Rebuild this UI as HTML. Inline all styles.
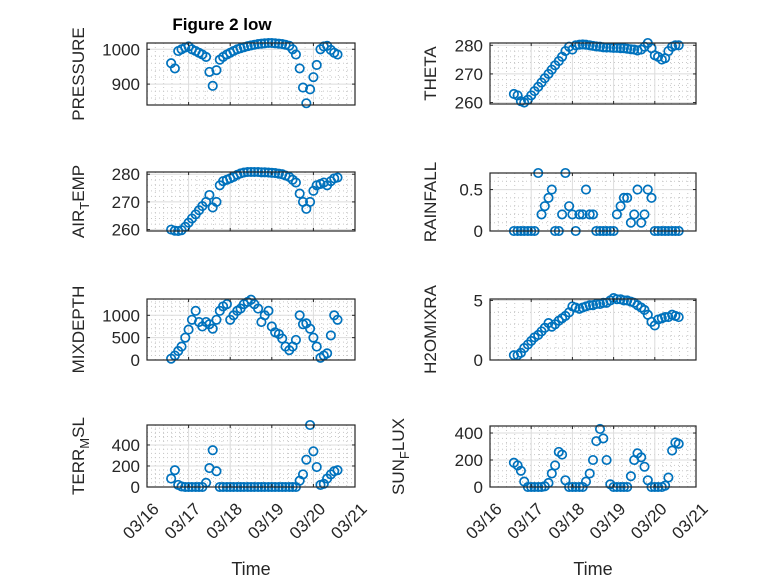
<!DOCTYPE html>
<html><head><meta charset="utf-8"><style>
html,body{margin:0;padding:0;background:#fff;}
svg{display:block;font-family:"Liberation Sans",sans-serif;}
</style></head><body>
<svg id="fig" width="778" height="583" viewBox="0 0 778 583">
<rect x="0" y="0" width="778" height="583" fill="#fff"/>
<text x="222" y="30" text-anchor="middle" font-size="17" font-weight="bold" fill="#000">Figure 2 low</text>
</svg>
<script>
const times = [16.58,16.67,16.75,16.83,16.92,17.00,17.08,17.17,17.25,17.33,17.42,17.50,17.58,17.67,17.75,17.83,17.92,18.00,18.08,18.17,18.25,18.33,18.42,18.50,18.58,18.67,18.75,18.83,18.92,19.00,19.08,19.17,19.25,19.33,19.42,19.50,19.58,19.67,19.75,19.83,19.92,20.00,20.08,20.17,20.25,20.33,20.42,20.50,20.58];
const pressure = [960,945,995,1000,1005,1008,1000,995,990,985,978,935,895,940,970,978,985,990,995,1000,1003,1006,1009,1011,1013,1015,1016,1017,1018,1018,1017,1016,1015,1013,1010,1000,985,945,890,845,885,920,955,1000,1008,1010,998,990,985];
const theta = [263,262.5,260.5,260,261,262.5,264,265.5,267,268.5,270,271.5,273,274.5,276,278,279.5,278.5,280,280.2,280.3,280.2,280,279.8,279.6,279.5,279.3,279.2,279.2,279.1,279.1,279,279,278.8,278.6,278.5,278.2,278.5,279.5,280.8,279,276.5,276,275,275.5,278,279.5,280,280];
const airTemp = [260,259.6,259.5,259.8,261,262.5,264,265.5,267,268.5,270,272.5,268,270,276,277.5,278,278.5,279,279.8,280.3,280.6,280.8,280.8,280.8,280.8,280.7,280.7,280.6,280.5,280.4,280.2,280,279.5,279,278,277,273,270,267.5,270,274,276,276.5,277,276,277.5,278.5,278.8];
const rainfall = [0,0,0,0,0,0,0,0.7,0.2,0.3,0.4,0.5,0,0,0.2,0.7,0.3,0.2,0,0.2,0.2,0.5,0.2,0.2,0,0,0,0,0,0,0.2,0.3,0.4,0.4,0.1,0.2,0.5,0.1,0.2,0.5,0.4,0,0,0,0,0,0,0,0];
const mixDepth = [30,100,200,300,500,680,900,1100,850,750,850,800,700,900,1100,1200,1250,900,1000,1100,1150,1250,1300,1350,1250,1150,850,1000,1100,750,620,580,480,300,220,300,450,1000,800,820,700,500,300,50,100,150,550,1000,900];
const h2oMixRatio = [0.4,0.4,0.6,1.0,1.3,1.6,1.9,2.1,2.4,2.7,3.1,2.8,3.0,3.3,3.5,3.7,4.0,4.5,4.4,4.3,4.4,4.5,4.6,4.6,4.7,4.7,4.8,4.8,5.0,5.2,5.1,5.1,5.0,5.0,4.9,4.8,4.6,4.4,4.2,3.8,3.2,2.9,3.4,3.5,3.6,3.6,3.8,3.7,3.6];
const terrMsl = [80,160,20,5,0,0,0,0,0,0,40,180,350,150,0,0,0,0,0,0,0,0,0,0,0,0,0,0,0,0,0,0,0,0,0,0,0,60,120,260,590,340,190,20,30,80,120,150,160];
const sunFlux = [180,160,120,40,0,0,0,0,0,5,30,100,160,260,240,50,0,0,0,0,0,40,100,200,340,430,360,200,20,0,0,0,0,0,80,200,250,220,150,50,0,0,0,0,10,70,270,330,320];
const xTickLabels = ["03/16","03/17","03/18","03/19","03/20","03/21"];
const xTickDays = [16,17,18,19,20,21];
const ticksPressure = [900,1000];
const ticksTheta = [260,270,280];
const ticksAir = [260,270,280];
const ticksRain = [0,0.5];
const ticksMix = [0,500,1000];
const ticksH2o = [0,5];
const ticksTerr = [0,200,400];
const ticksSun = [0,200,400];

const NS = "http://www.w3.org/2000/svg";
const svg = document.getElementById('fig');
const BLUE = "#0072BD";

const panels = [
 {name:"pressure", data:pressure, ticks:ticksPressure, ylim:[840,1018], x:147, y:43, w:208, h:62, label:["PRESSURE"], lx:78, bottom:false},
 {name:"theta", data:theta, ticks:ticksTheta, ylim:[259.5,280.8], x:490, y:43, w:206, h:61, label:["THETA"], lx:430, bottom:false},
 {name:"air-temp", data:airTemp, ticks:ticksAir, ylim:[259.5,280.8], x:147, y:172, w:208, h:59, label:["AIR","T","EMP"], lx:78, bottom:false},
 {name:"rainfall", data:rainfall, ticks:ticksRain, ylim:[0,0.7], x:490, y:173, w:206, h:58, label:["RAINFALL"], lx:430, bottom:false},
 {name:"mixdepth", data:mixDepth, ticks:ticksMix, ylim:[0,1365], x:147, y:299, w:208, h:61, label:["MIXDEPTH"], lx:78, bottom:false},
 {name:"h2o-mix-ratio", data:h2oMixRatio, ticks:ticksH2o, ylim:[0,5.12], x:490, y:299, w:206, h:61, label:["H2OMIXRA"], lx:430, bottom:false},
 {name:"terr-msl", data:terrMsl, ticks:ticksTerr, ylim:[0,590], x:147, y:425, w:208, h:62, label:["TERR","M","SL"], lx:78, bottom:true},
 {name:"sun-flux", data:sunFlux, ticks:ticksSun, ylim:[0,452], x:490, y:426, w:206, h:61, label:["SUN","F","LUX"], lx:398, bottom:true}
];

function mk(tag, attrs, parent){
  const e = document.createElementNS(NS, tag);
  for (const k in attrs) e.setAttribute(k, attrs[k]);
  (parent||svg).appendChild(e);
  return e;
}

panels.forEach(p => {
  const g = mk('g', {});
  
  
  const xs = d => p.x + (d - 16) / 5 * p.w;
  const ys = v => p.y + p.h - (v - p.ylim[0]) / (p.ylim[1] - p.ylim[0]) * p.h;
  mk('rect', {x:p.x, y:p.y, width:p.w, height:p.h, fill:'#fff'}, g);
  const minor = mk('g', {stroke:'#c8c8c8', 'stroke-width':1, 'stroke-dasharray':'1 3'}, g);
  for (let d = 16; d < 21; d += 0.2) {
    const X = xs(d);
    if (Math.abs(d - Math.round(d)) > 0.01) mk('line', {x1:X, x2:X, y1:p.y, y2:p.y+p.h}, minor);
  }
  const step = p.ticks[1] - p.ticks[0];
  for (let v = p.ticks[0] - step; v <= p.ylim[1]; v += step/5) {
    if (v <= p.ylim[0] || v >= p.ylim[1]) continue;
    const rel = (v - p.ticks[0]) / step;
    if (Math.abs(rel - Math.round(rel)) < 0.01) continue;
    const Y = ys(v);
    mk('line', {x1:p.x, x2:p.x+p.w, y1:Y, y2:Y}, minor);
  }
  const major = mk('g', {stroke:'#dcdcdc', 'stroke-width':1}, g);
  xTickDays.forEach(d => { const X = xs(d); mk('line', {x1:X, x2:X, y1:p.y, y2:p.y+p.h}, major); });
  p.ticks.forEach(v => { const Y = ys(v); mk('line', {x1:p.x, x2:p.x+p.w, y1:Y, y2:Y}, major); });
  const pts = mk('g', {fill:'none', stroke:BLUE, 'stroke-width':1.7}, g);
  
  
  p.data.forEach((v, i) => {
    const c = mk('circle', {cx:xs(times[i]), cy:ys(v), r:4.2}, pts);
    
    
  });
  mk('rect', {x:p.x, y:p.y, width:p.w, height:p.h, fill:'none', stroke:'#262626', 'stroke-width':1.2}, g);
  const tk = mk('g', {stroke:'#262626', 'stroke-width':1}, g);
  xTickDays.forEach(d => { const X = xs(d);
    mk('line', {x1:X, x2:X, y1:p.y+p.h, y2:p.y+p.h-3}, tk);
    mk('line', {x1:X, x2:X, y1:p.y, y2:p.y+3}, tk); });
  p.ticks.forEach(v => { const Y = ys(v);
    mk('line', {x1:p.x, x2:p.x+3, y1:Y, y2:Y}, tk);
    mk('line', {x1:p.x+p.w, x2:p.x+p.w-3, y1:Y, y2:Y}, tk); });
  p.ticks.forEach(v => {
    const t = mk('text', {x:p.x-7, y:ys(v)+6, 'text-anchor':'end', 'font-size':17, fill:'#262626'}, g);
    
    
    t.textContent = String(v);
  });
  const cy = p.y + p.h/2;
  const yl = mk('text', {x:0, y:0, 'text-anchor':'middle', 'font-size':17, fill:'#262626', transform:`translate(${p.lx+6},${cy}) rotate(-90)`}, g);
  
  
  if (p.label.length === 1) yl.textContent = p.label[0];
  else {
    const a = mk('tspan', {}, yl); a.textContent = p.label[0];
    const b = mk('tspan', {dy:5, 'font-size':13}, yl); b.textContent = p.label[1];
    const c = mk('tspan', {dy:-5}, yl); c.textContent = p.label[2];
  }
  if (p.bottom) {
    xTickDays.forEach((d, i) => {
      const X = xs(d);
      const t = mk('text', {x:0, y:0, 'text-anchor':'end', 'font-size':17, fill:'#262626', transform:`translate(${X+13},${p.y+p.h+23}) rotate(-45)`}, g);
      
      
      t.textContent = xTickLabels[i];
    });
    const xt = mk('text', {x:p.x+p.w/2, y:575, 'text-anchor':'middle', 'font-size':18, fill:'#262626'}, g);
    
    
    xt.textContent = 'Time';
  }
});
</script>
</body></html>
